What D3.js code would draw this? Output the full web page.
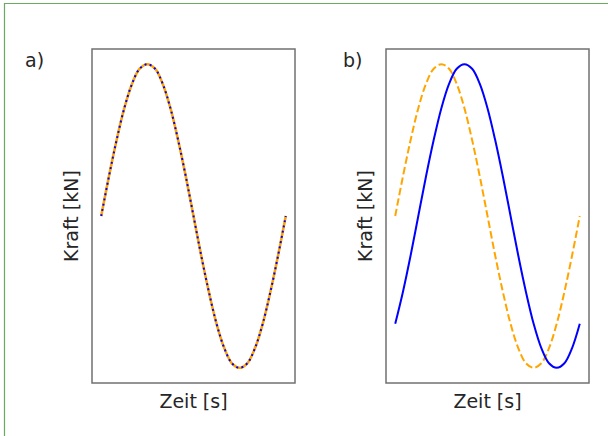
<!DOCTYPE html>
<html>
<head>
<meta charset="utf-8">
<script src="https://cdn.jsdelivr.net/npm/d3@7"></script>
<style>
  body { margin: 0; background: #fff; }
  svg { display: block; }
  text { font-family: "DejaVu Sans", sans-serif; fill: #262626; }
</style>
</head>
<body>
<div id="chart"></div>
<script>
// time in degrees of phase (one full period)
const zeit = [0, 15, 30, 45, 60, 75, 90, 105, 120, 135, 150, 165, 180,
  195, 210, 225, 240, 255, 270, 285, 300, 315, 330, 345, 360];

// force values
const kraftA = [0, 0.26, 0.5, 0.71, 0.87, 0.97, 1, 0.97, 0.87, 0.71, 0.5, 0.26, 0,
  -0.26, -0.5, -0.71, -0.87, -0.97, -1, -0.97, -0.87, -0.71, -0.5, -0.26, 0];
const kraftB = [-0.71, -0.5, -0.26, 0, 0.26, 0.5, 0.71, 0.87, 0.97, 1, 0.97, 0.87, 0.71,
  0.5, 0.26, 0, -0.26, -0.5, -0.71, -0.87, -0.97, -1, -0.97, -0.87, -0.71];

const panelLabels = ['a)', 'b)'];
const xLabel = 'Zeit [s]';
const yLabel = 'Kraft [kN]';

const width = 608;
const height = 436;

const svg = d3.select('#chart')
  .append('svg')
  .attr('width', width)
  .attr('height', height);

// outer green border (top and left only)
svg.append('line')
  .attr('x1', 4).attr('y1', 3.5).attr('x2', width).attr('y2', 3.5)
  .attr('stroke', '#6aaa5e').attr('stroke-width', 1.2);
svg.append('line')
  .attr('x1', 4.5).attr('y1', 3).attr('x2', 4.5).attr('y2', height)
  .attr('stroke', '#6aaa5e').attr('stroke-width', 1.2);

const panels = [
  { left: 92, labelX: 25, label: panelLabels[0], lines: [
    { values: kraftA, color: 'orange', width: 2.6, dash: null },
    { values: kraftA, color: 'blue', width: 2, dash: '2,3.3' }
  ] },
  { left: 386, labelX: 343, label: panelLabels[1], lines: [
    { values: kraftA, color: 'orange', width: 2, dash: '7.4,3.2' },
    { values: kraftB, color: 'blue', width: 2, dash: null }
  ] }
];

const plotW = 203;
const plotTop = 49;
const plotBottom = 383;

panels.forEach((p) => {
  const span = 360;
  const pad = span * 0.05;
  const x = d3.scaleLinear()
    .domain([0 - pad, span + pad])
    .range([p.left, p.left + plotW]);
  const y = d3.scaleLinear()
    .domain([-1.1, 1.1])
    .range([plotBottom, plotTop]);

  const g = svg.append('g');

  const line = d3.line()
    .x((d) => x(d[0]))
    .y((d) => y(d[1]))
    .curve(d3.curveCatmullRom.alpha(0.5));

  p.lines.forEach((l) => {
    g.append('path')
      .datum(zeit.map((t, i) => [t, l.values[i]]))
      .attr('d', line)
      .attr('fill', 'none')
      .attr('stroke', l.color)
      .attr('stroke-width', l.width)
      .attr('stroke-dasharray', l.dash);
  });

  // frame
  g.append('rect')
    .attr('x', p.left)
    .attr('y', plotTop)
    .attr('width', plotW)
    .attr('height', plotBottom - plotTop)
    .attr('fill', 'none')
    .attr('stroke', '#707070')
    .attr('stroke-width', 1.5);

  g.append('text')
    .attr('x', p.left + plotW / 2)
    .attr('y', 408)
    .attr('text-anchor', 'middle')
    .style('font-size', '19px')
    .text(xLabel);

  g.append('text')
    .attr('transform', `translate(${p.left - 14},${(plotTop + plotBottom) / 2}) rotate(-90)`)
    .attr('text-anchor', 'middle')
    .style('font-size', '19px')
    .text(yLabel);

  g.append('text')
    .attr('x', p.labelX)
    .attr('y', 67)
    .style('font-size', '19px')
    .text(p.label);
});
</script>
</body>
</html>
